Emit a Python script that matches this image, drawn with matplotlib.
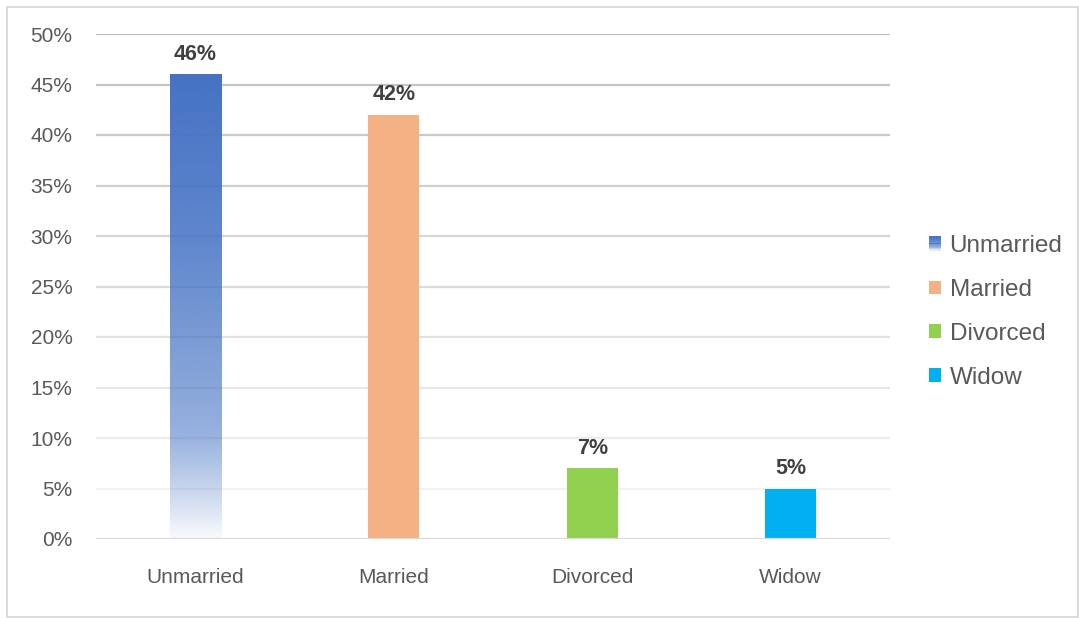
import numpy as np
import matplotlib
matplotlib.use("Agg")
import matplotlib.pyplot as plt
from matplotlib.patches import Rectangle, Patch
from matplotlib.legend_handler import HandlerBase
from matplotlib.colors import to_rgb

# Data
categories = ["Unmarried", "Married", "Divorced", "Widow"]
shares = [46, 42, 7, 5]
colors = ["#4472c4", "#f4b183", "#92d050", "#00b0f0"]
yticks = [0, 5, 10, 15, 20, 25, 30, 35, 40, 45, 50]

plt.rcParams['font.family'] = ['Liberation Sans', 'DejaVu Sans']

# alpha profile of the gradient fill (fraction of bar height -> opacity)
grad_f = [0.0, 0.11, 0.22, 0.33, 0.65, 1.0]
grad_a = [0.04, 0.31, 0.55, 0.64, 0.86, 1.0]


class GradientHandler(HandlerBase):
    def create_artists(self, legend, orig_handle, xdescent, ydescent,
                       width, height, fontsize, trans):
        n = 12
        rgb = to_rgb(orig_handle.get_facecolor())
        arts = []
        for i in range(n):
            f = (i + 0.5) / n
            a = np.interp(f, grad_f, grad_a)
            r = Rectangle((-xdescent, -ydescent + height * i / n), width, height / n + 0.2,
                          facecolor=rgb, alpha=a, edgecolor="none", transform=trans)
            arts.append(r)
        return arts


fig = plt.figure(figsize=(10.79, 6.18), dpi=100)
fig.patches.append(Rectangle((7 / 1079, 1 / 618), 1071 / 1079, 610 / 618,
                             transform=fig.transFigure, facecolor="none",
                             edgecolor="#d9d9d9", lw=1.3))
ax = fig.add_axes([96 / 1079, 79 / 618, 794 / 1079, 505 / 618])

x = np.arange(len(categories))
bars = ax.bar(x, shares, width=0.257, color=colors, zorder=3)

# gradient fill for the first bar
b0 = bars[0]
b0.set_facecolor("none")
h = 200
f = np.linspace(0, 1, h)[:, None]
rgba = np.zeros((h, 1, 4))
rgba[..., :3] = to_rgb(colors[0])
rgba[..., 3] = np.interp(f, grad_f, grad_a)
x0 = b0.get_x()
img = ax.imshow(rgba, origin="lower", aspect="auto", interpolation="bilinear",
                extent=[x0, x0 + b0.get_width(), 0, shares[0]], zorder=3)

ax.set_xlim(-0.5, len(categories) - 0.5)
ax.set_ylim(0, 50)

# gridlines fade from top to bottom
g_top = np.array([0xbf, 0xbf, 0xbf]) / 255
g_bot = np.array([0xf2, 0xf2, 0xf2]) / 255
for t in yticks[1:]:
    c = g_bot + (g_top - g_bot) * (t - 5) / 45
    ax.axhline(t, color=c, lw=1.6, zorder=1)
ax.axhline(0, color="#d9d9d9", lw=1.6, zorder=4)

for s in ax.spines.values():
    s.set_visible(False)
ax.set_yticks(yticks)
ax.set_yticklabels([f"{t}%" for t in yticks])
ax.set_xticks(x)
ax.set_xticklabels(categories)
ax.tick_params(axis="y", length=0, pad=17, labelsize=15, labelcolor="#595959")
ax.tick_params(axis="x", length=0, pad=21, labelsize=15, labelcolor="#595959")

for bar, v in zip(bars, shares):
    ax.annotate(f"{v}%", (bar.get_x() + bar.get_width() / 2, v), xytext=(0, 7),
                textcoords="offset points", ha="center", va="bottom",
                fontsize=15.5, fontweight="bold", color="#404040")

handles = [Patch(facecolor=c, edgecolor="none") for c in colors]
leg = fig.legend(handles, categories, loc="center left",
                 bbox_to_anchor=(907 / 1079, 0.495), frameon=False,
                 fontsize=17.5, labelcolor="#595959", handlelength=0.5,
                 handleheight=0.5, handletextpad=0.35, labelspacing=0.9,
                 handler_map={handles[0]: GradientHandler()})

fig.savefig("out.png", dpi=100)
